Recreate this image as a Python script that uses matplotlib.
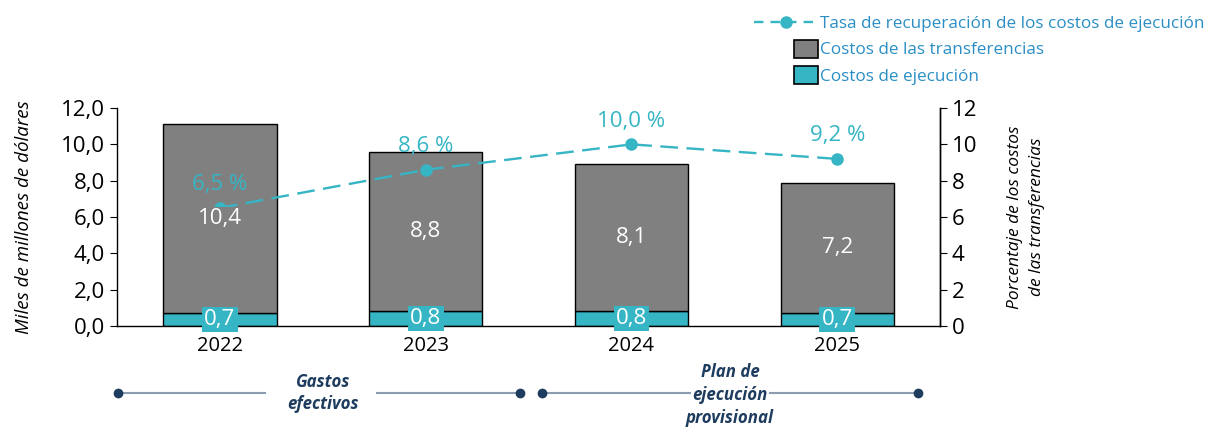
import numpy as np
import matplotlib.pyplot as plt
from matplotlib.lines import Line2D
from matplotlib.patches import Patch, Rectangle
from matplotlib.legend_handler import HandlerPatch
from matplotlib.ticker import FuncFormatter

plt.rcParams['font.family'] = ['Open Sans', 'DejaVu Sans']

# datos
anios = ['2022', '2023', '2024', '2025']
costos_ejecucion = [0.7, 0.8, 0.8, 0.7]
costos_transferencias = [10.4, 8.8, 8.1, 7.2]
tasa_recuperacion = [6.5, 8.6, 10.0, 9.2]

TEAL = '#36b5c4'
GRIS = '#808080'
AZUL_TXT = '#2a8ec5'
NAVY = '#1e3c5e'


def coma(v, dec=1):
    return f'{v:.{dec}f}'.replace('.', ',')


fig = plt.figure(figsize=(12.08, 4.28), dpi=100)
ax = fig.add_axes([0.0969, 0.2383, 0.6813, 0.5093])
ax2 = ax.twinx()

x = np.arange(len(anios))
ancho = 0.55
ax.bar(x, costos_ejecucion, ancho, color=TEAL, edgecolor='black', linewidth=1)
ax.bar(x, costos_transferencias, ancho, bottom=costos_ejecucion,
       color=GRIS, edgecolor='black', linewidth=1)

ax2.plot(x, tasa_recuperacion, color=TEAL, lw=1.7, dashes=(7.5, 3.6),
         marker='o', markersize=8, zorder=2)
for xi, p in zip(x, tasa_recuperacion):
    ax2.annotate(coma(p) + ' %', (xi, p), xytext=(0, 9), textcoords='offset points',
                 ha='center', va='bottom', color=TEAL, fontsize=16)

# etiquetas de valores (por encima de la línea)
for xi, e, t in zip(x, costos_ejecucion, costos_transferencias):
    ax2.text(xi, e / 2, coma(e), ha='center', va='center', color='white', fontsize=16,
             zorder=5, bbox=dict(boxstyle='square,pad=0.1', fc=TEAL, ec='none'))
    ax2.text(xi, e + t / 2, coma(t), ha='center', va='center', color='white', fontsize=16,
             zorder=5, bbox=dict(boxstyle='square,pad=0.05', fc=GRIS, ec='none'))

ax.set_xlim(-0.5, 3.5)
ax.set_ylim(0, 12)
ax2.set_ylim(0, 12)
ax.set_yticks(np.arange(0, 13, 2))
ax2.set_yticks(np.arange(0, 13, 2))
ax.yaxis.set_major_formatter(FuncFormatter(lambda v, _: coma(v)))
ax.set_xticks(x)
ax.set_xticklabels(anios, fontsize=14.5)
ax.tick_params(axis='x', length=0, pad=7)
ax.tick_params(axis='y', labelsize=16, length=5, direction='out')
ax2.tick_params(axis='y', labelsize=16, length=5, direction='out')

for a in (ax, ax2):
    a.spines['top'].set_visible(False)
    for s in a.spines.values():
        s.set_linewidth(1)
ax2.spines['left'].set_visible(False)
ax2.spines['bottom'].set_visible(False)

ax.set_ylabel('Miles de millones de dólares', fontsize=13.5, style='italic', labelpad=20)
ax2.set_ylabel('Porcentaje de los costos\nde las transferencias', fontsize=12.5,
               style='italic', labelpad=21, linespacing=1.55)


# cuadros de leyenda pequeños alineados a la derecha
def cuadro(legend, orig_handle, xdescent, ydescent, width, height, fontsize):
    w = 24 * 72 / 100
    h = 18 * 72 / 100
    return Rectangle((width - w - xdescent, -ydescent + (height - h) / 2), w, h)


handles = [Line2D([], [], color=TEAL, lw=1.7, dashes=(4, 3), marker='o', markersize=8),
           Patch(facecolor=GRIS, edgecolor='black', linewidth=1.2),
           Patch(facecolor=TEAL, edgecolor='black', linewidth=1.2)]
labels = ['Tasa de recuperación de los costos de ejecución',
          'Costos de las transferencias',
          'Costos de ejecución']
fig.legend(handles, labels, loc='upper right', bbox_to_anchor=(1.010, 0.998),
           frameon=False, fontsize=12.3, labelcolor=AZUL_TXT, handlelength=3.7,
           handletextpad=0.15, labelspacing=0.6,
           handler_map={Patch: HandlerPatch(patch_func=cuadro)})

# línea de tiempo inferior
yl = 1 - 393 / 428
for x0, x1 in [(118, 265), (377, 520), (542, 690), (770, 918)]:
    fig.add_artist(Line2D([x0 / 1208, x1 / 1208], [yl, yl], color='#8b9bb0', lw=1.5))
for xp in (118, 520, 542, 918):
    fig.add_artist(Line2D([xp / 1208], [yl], marker='o', color=NAVY, markersize=6))
fig.text(323 / 1208, yl, 'Gastos\nefectivos', ha='center', va='center', color=NAVY,
         fontsize=12.2, fontweight='bold', style='italic', linespacing=1.35)
fig.text(730 / 1208, 1 - 395 / 428, 'Plan de\nejecución\nprovisional', ha='center',
         va='center', color=NAVY, fontsize=12.2, fontweight='bold', style='italic',
         linespacing=1.35)

fig.savefig('out.png', dpi=100)
